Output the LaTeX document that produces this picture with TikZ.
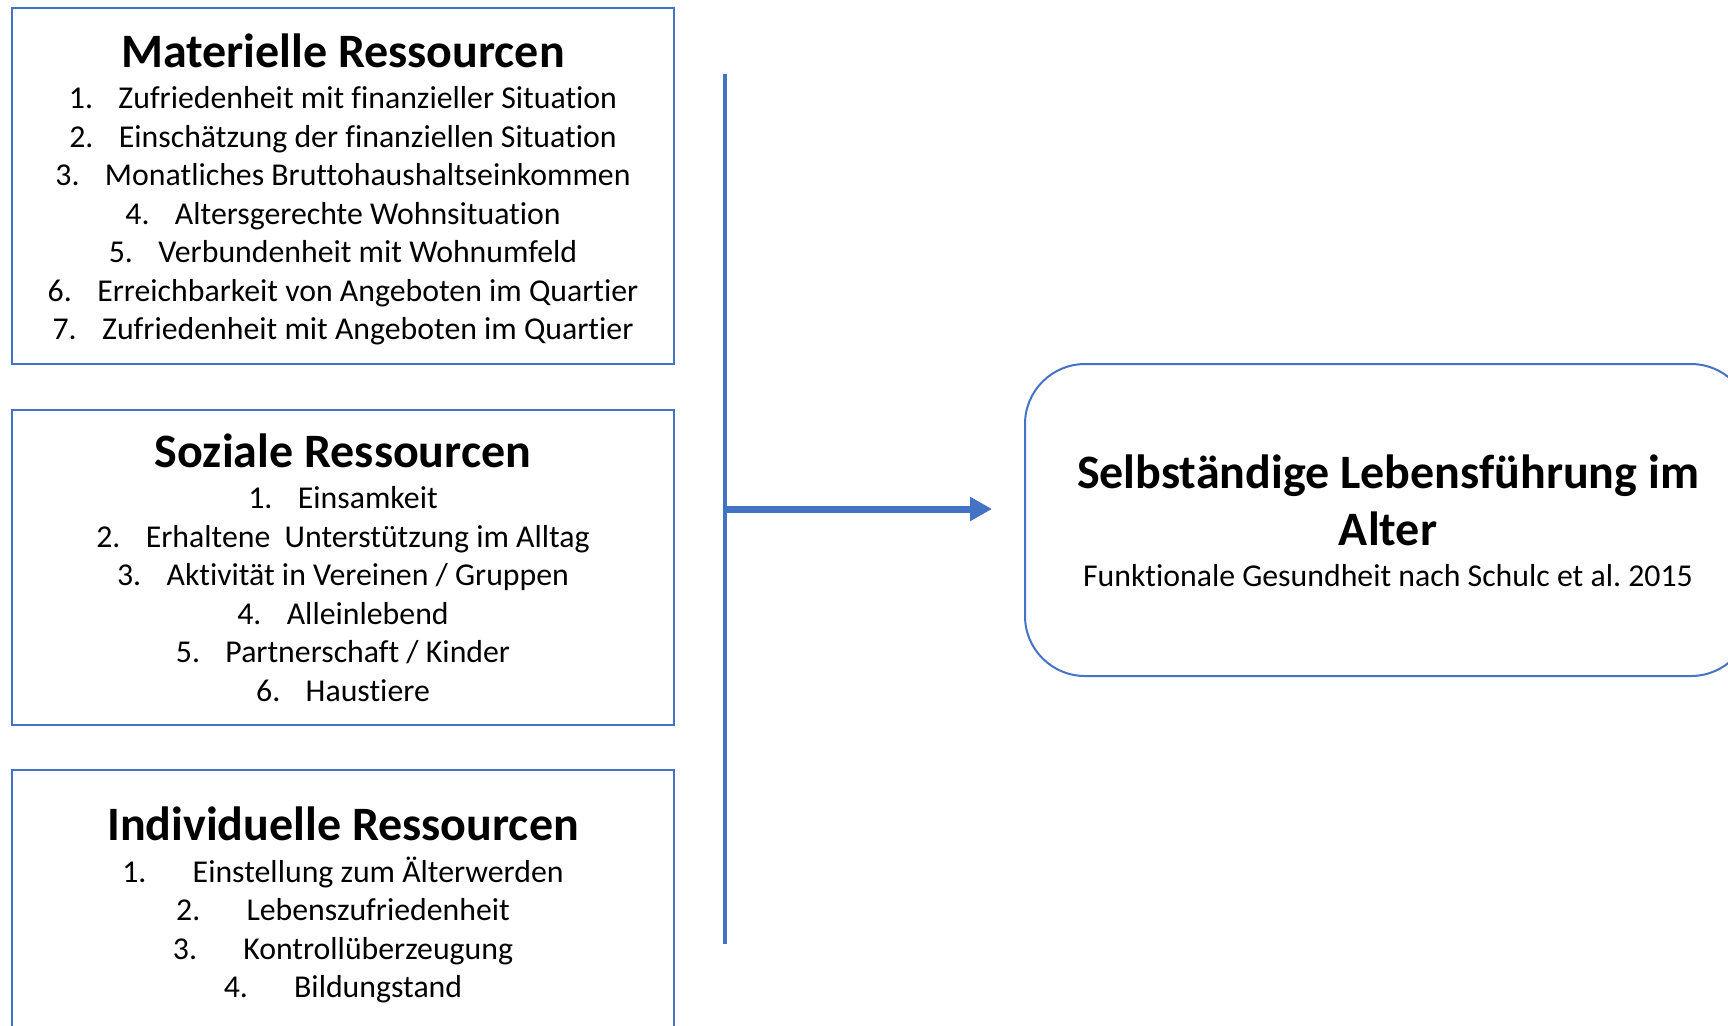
\documentclass[tikz,border=0pt]{standalone}
\usepackage{fontspec}
\setmainfont{Carlito}[Ligatures=NoCommon]
\usetikzlibrary{arrows.meta,positioning}
\definecolor{officeblue}{RGB}{68,114,196}
\frenchspacing
% numbered line: number in a fixed box, then the text
\newcommand{\litem}[3][24.8pt]{\makebox[#1][l]{#2}#3}

\begin{document}
\begin{tikzpicture}[x=0.5pt,y=-0.5pt,
    every node/.append style={inner sep=0pt,outer sep=0pt}]
  \tikzstyle{resbox} = [draw=officeblue,line width=1pt,minimum width=331pt]
  \tikzstyle{goalbox} = [draw=officeblue,line width=1pt,rounded corners=30pt,
                         minimum width=363pt,minimum height=156pt]
  \tikzstyle{heading} = [font=\bfseries\fontsize{24}{28.5}\selectfont,align=center]
  \tikzstyle{entry} = [font=\fontsize{15.9}{18}\selectfont,text height=13pt,text depth=3pt]
  \useasboundingbox (0,0) rectangle (1728,1025);

  % the three boxes
  \node (mat) [resbox,minimum height=178pt] at (343,186) {};
  \node (soz) [resbox,minimum height=157.5pt] at (343,567.5) {};
  \node (ind) [resbox,minimum height=137.5pt] at (343,907.5) {};

  % Materielle Ressourcen
  \node (mat-title) [heading] at (343,51) {Materielle Ressourcen};
  \node (mat-1) [entry] at (343,98)  {\litem{1.}{Zufriedenheit mit finanzieller Situation}};
  \node (mat-2) [entry] at (343,137) {\litem{2.}{Einschätzung der finanziellen Situation}};
  \node (mat-3) [entry] at (343,175) {\litem{3.}{Monatliches Bruttohaushaltseinkommen}};
  \node (mat-4) [entry] at (343,214) {\litem{4.}{Altersgerechte Wohnsituation}};
  \node (mat-5) [entry] at (343,252) {\litem{5.}{Verbundenheit mit Wohnumfeld}};
  \node (mat-6) [entry] at (343,291) {\litem{6.}{Erreichbarkeit von Angeboten im Quartier}};
  \node (mat-7) [entry] at (343,329) {\litem{7.}{Zufriedenheit mit Angeboten im Quartier}};

  % Soziale Ressourcen
  \node (soz-title) [heading] at (343,451) {Soziale Ressourcen};
  \node (soz-1) [entry] at (343,498) {\litem{1.}{Einsamkeit}};
  \node (soz-2) [entry] at (343,537) {\litem{2.}{Erhaltene\ \ Unterstützung im Alltag}};
  \node (soz-3) [entry] at (343,575) {\litem{3.}{Aktivität in Vereinen / Gruppen}};
  \node (soz-4) [entry] at (343,614) {\litem{4.}{Alleinlebend}};
  \node (soz-5) [entry] at (343,652) {\litem{5.}{Partnerschaft / Kinder}};
  \node (soz-6) [entry] at (343,691) {\litem{6.}{Haustiere}};

  % Individuelle Ressourcen
  \node (ind-title) [heading] at (343,824) {Individuelle Ressourcen};
  \node (ind-1) [entry] at (343,872) {\litem[35.2pt]{1.}{Einstellung zum Älterwerden}};
  \node (ind-2) [entry] at (343,910) {\litem[35.2pt]{2.}{Lebenszufriedenheit}};
  \node (ind-3) [entry] at (343,949) {\litem[35.2pt]{3.}{Kontrollüberzeugung}};
  \node (ind-4) [entry] at (343,987) {\litem[35.2pt]{4.}{Bildungstand}};

  % target box
  \node (goal) [goalbox] at (1388,520) {};
  \node (goal-title) [heading] at (1388,500.5) {Selbständige Lebensführung im\\Alter};
  \node (goal-sub) [entry] at (1388,576) {Funktionale Gesundheit nach Schulc et al. 2015};

  % connector
  \coordinate (bar-top) at (725,74);
  \coordinate (bar-bot) at (725,944);
  \coordinate (bar-mid) at (725,509);
  \draw [officeblue,line width=1.6pt] (bar-top) -- (bar-bot);
  \draw [officeblue,line width=3.5pt,shorten >=16.5pt,
         -{Triangle[length=11pt,width=11.5pt]}] (bar-mid) -- (bar-mid -| goal.west);
\end{tikzpicture}
\end{document}
